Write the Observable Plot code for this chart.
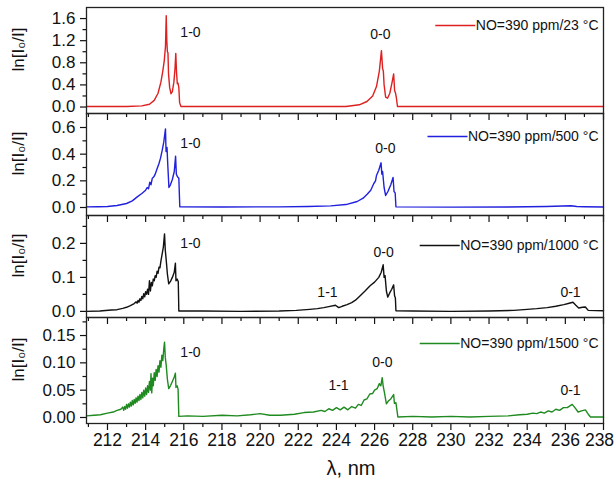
<!DOCTYPE html>
<html><head><meta charset="utf-8">
<script src="https://cdn.jsdelivr.net/npm/d3@7"></script>
<script src="https://cdn.jsdelivr.net/npm/@observablehq/plot@0.6"></script>
<style>
body{margin:0;background:#fff;}
#chart{position:relative;width:615px;height:485px;}
#chart svg{position:absolute;left:0;top:0;overflow:visible;}
</style></head><body><div id="chart"></div>
<script>
// ---------- DATA ----------
const xMajorTicks = [212,214,216,218,220,222,224,226,228,230,232,234,236];
const xEdgeTick = [238];
const xMinorTicks = [211,213,215,217,219,221,223,225,227,229,231,233,235,237];

const seriesLabels = ["NO=390 ppm/23 °C","NO=390 ppm/500 °C","NO=390 ppm/1000 °C","NO=390 ppm/1500 °C"];
const seriesColors = ["#dd2020","#2020dd","#111111","#1f8a1f"];

// 23 °C
const wl1 = [210.9,213.0,213.8,214.2,214.45,214.65,214.8,214.9,214.98,215.04,215.08,215.11,215.14,215.17,215.2,215.26,215.33,215.4,215.48,215.54,215.58,215.62,215.66,215.7,215.74,215.78,215.85,224.5,225.2,225.6,225.9,226.1,226.25,226.36,226.42,226.46,226.5,226.58,226.68,226.8,226.92,227.0,227.05,227.1,227.15,227.2,238];
const ab1 = [0.01,0.01,0.02,0.05,0.12,0.25,0.45,0.65,0.85,1.1,1.65,1.2,1.0,0.98,0.6,0.35,0.24,0.28,0.45,0.7,0.97,0.62,0.42,0.43,0.35,0.08,0.01,0.01,0.04,0.1,0.2,0.37,0.65,1.02,0.7,0.65,0.4,0.18,0.16,0.25,0.45,0.6,0.3,0.25,0.15,0.01,0.01];

// 500 °C
const wl2 = [210.9,211.5,212.0,212.5,213.0,213.3,213.56,213.8,214.0,214.08,214.15,214.22,214.28,214.35,214.43,214.5,214.6,214.7,214.78,214.87,214.95,215.04,215.07,215.12,215.16,215.22,215.3,215.4,215.5,215.57,215.61,215.67,215.74,215.79,218,221,222.5,223.7,224.5,225.09,225.4,225.61,225.8,225.96,226.05,226.1,226.22,226.34,226.38,226.42,226.5,226.58,226.7,226.85,226.97,227.02,227.08,227.12,230,233,235,236.3,236.6,237,238];
const ab2 = [0.005,0.006,0.008,0.015,0.03,0.05,0.08,0.105,0.13,0.15,0.14,0.19,0.17,0.22,0.23,0.25,0.29,0.33,0.37,0.43,0.49,0.59,0.42,0.45,0.32,0.15,0.17,0.21,0.27,0.385,0.25,0.23,0.22,0.005,0.004,0.005,0.008,0.012,0.022,0.045,0.07,0.1,0.13,0.18,0.2,0.24,0.28,0.335,0.25,0.27,0.15,0.09,0.12,0.17,0.225,0.12,0.11,0.005,0.003,0.004,0.008,0.013,0.008,0.006,0.004];

// 1000 °C
const wl3 = [210.9,211.6,212.2,212.5,212.8,213.0,213.2,213.4,213.5,213.55,213.6,213.65,213.7,213.75,213.8,213.85,213.9,213.95,214.0,214.05,214.1,214.15,214.2,214.25,214.3,214.35,214.4,214.45,214.5,214.55,214.6,214.65,214.7,214.75,214.8,214.87,214.93,214.99,215.03,215.08,215.14,215.21,215.3,215.4,215.5,215.56,215.59,215.65,215.71,215.74,217,219,221,221.9,222.6,223.0,223.34,223.6,223.95,224.12,224.3,224.56,224.8,225.0,225.26,225.5,225.78,226.0,226.22,226.35,226.45,226.5,226.55,226.62,226.69,226.8,226.9,227.0,227.05,227.09,227.12,228,230,232,233.3,234,234.5,235.05,235.5,235.92,236.2,236.4,236.55,236.7,236.9,237.05,237.2,238];
const ab3 = [0,0.001,0.004,0.005,0.009,0.012,0.017,0.023,0.028,0.024,0.032,0.027,0.037,0.032,0.044,0.037,0.052,0.043,0.058,0.05,0.065,0.05,0.09,0.06,0.085,0.075,0.095,0.09,0.105,0.1,0.118,0.112,0.13,0.128,0.148,0.17,0.19,0.228,0.18,0.15,0.11,0.081,0.088,0.1,0.115,0.142,0.09,0.095,0.088,0.001,0.001,0,0.001,0.003,0.006,0.008,0.011,0.014,0.018,0.011,0.015,0.02,0.026,0.033,0.047,0.06,0.076,0.086,0.1,0.115,0.137,0.1,0.105,0.06,0.042,0.055,0.065,0.078,0.045,0.04,0.002,0.001,0,0.001,0.003,0.006,0.008,0.011,0.015,0.02,0.024,0.027,0.018,0.01,0.012,0.013,0.003,0.002];

// 1500 °C
const wl4 = [210.9,211.3,211.63,212.0,212.3,212.5,212.7,212.8,212.85,212.9,212.95,213.0,213.05,213.1,213.15,213.2,213.25,213.3,213.35,213.4,213.45,213.5,213.55,213.6,213.65,213.7,213.75,213.8,213.85,213.9,213.95,214.0,214.05,214.1,214.15,214.2,214.25,214.28,214.32,214.36,214.4,214.45,214.5,214.55,214.6,214.65,214.7,214.75,214.8,214.85,214.9,214.95,214.99,215.03,215.08,215.14,215.21,215.3,215.4,215.5,215.56,215.59,215.65,215.7,215.74,216.2,217,218,218.8,219.5,220,220.5,221.07,221.8,222.3,222.8,223.2,223.4,223.6,223.8,224.0,224.2,224.4,224.6,224.8,225.0,225.15,225.3,225.45,225.6,225.75,225.9,226.0,226.14,226.25,226.33,226.4,226.45,226.52,226.62,226.72,226.85,227.0,227.04,227.12,227.22,228,229,230,231,232,233,233.6,234.0,234.3,234.5,234.7,234.9,235.1,235.3,235.5,235.7,235.9,236.1,236.36,236.5,236.67,236.85,237.05,237.2,237.32,238];
const ab4 = [0.003,0.004,0.005,0.008,0.01,0.013,0.015,0.019,0.013,0.02,0.015,0.024,0.017,0.025,0.019,0.028,0.021,0.031,0.023,0.033,0.026,0.036,0.028,0.039,0.031,0.042,0.033,0.046,0.036,0.05,0.039,0.054,0.042,0.058,0.046,0.066,0.05,0.08,0.045,0.072,0.058,0.082,0.068,0.088,0.075,0.095,0.083,0.104,0.092,0.114,0.104,0.125,0.138,0.11,0.095,0.07,0.053,0.058,0.066,0.074,0.081,0.055,0.058,0.052,0.002,0.003,0.002,0.004,0.003,0.005,0.007,0.004,0.004,0.006,0.009,0.01,0.013,0.011,0.016,0.013,0.018,0.014,0.019,0.014,0.02,0.017,0.024,0.022,0.032,0.034,0.043,0.044,0.05,0.053,0.062,0.058,0.073,0.058,0.045,0.025,0.03,0.034,0.042,0.026,0.027,0.001,0.002,0.001,0.002,0.001,0.002,0.003,0.005,0.006,0.008,0.007,0.01,0.008,0.012,0.01,0.015,0.013,0.018,0.018,0.024,0.018,0.01,0.012,0.014,0.006,0.001,0.001];

// band annotations: label, wavelength, value, panel
const bandLabels = ["1-0","0-0","1-0","0-0","1-0","0-0","1-1","0-1","1-0","0-0","1-1","0-1"];
const bandX      = [216.35,226.3,216.35,226.57,216.35,226.47,223.53,236.27,216.35,226.41,224.11,236.27];
const bandY      = [1.34,1.31,0.48,0.44,0.20,0.174,0.056,0.056,0.119,0.10,0.059,0.049];
const bandPanel  = [0,0,1,1,2,2,2,2,3,3,3,3];

// y ticks per panel
const yMajor = [[0,0.4,0.8,1.2,1.6],[0,0.2,0.4,0.6],[0,0.1,0.2],[0,0.05,0.10,0.15]];
const yMinor = [[0.2,0.6,1.0,1.4],[0.1,0.3,0.5],[0.05,0.15,0.25],[0.025,0.075,0.125,0.175]];
const yFormat = [".1f",".1f",".1f",".2f"];

// ---------- LAYOUT ----------
const W = 615, H = 485, ML = 86, MR = 12;
const xDomain = [210.9, 238];
const panelTop    = [7, 113, 215, 317];
const panelBottom = [113, 215, 317, 423];
const yDomains = [[-0.117,1.8],[-0.06,0.705],[-0.018,0.282],[-0.011,0.183]];
const legendPx = [25, 136, 245, 343];
const font = "'Liberation Sans', Arial, Helvetica, sans-serif";

const wls = [wl1,wl2,wl3,wl4], abs = [ab1,ab2,ab3,ab4];

const ctx = document.createElement("canvas").getContext("2d");
ctx.font = "14px 'Liberation Sans', Arial";

const chart = document.getElementById("chart");
for (let i = 0; i < 4; i++) {
  const data = wls[i].map((w, k) => ({wl: w, v: abs[i][k]}));
  const notes = bandLabels.map((t, k) => ({t, x: bandX[k], y: bandY[k], p: bandPanel[k]})).filter(d => d.p === i);
  const top = panelTop[i], bottom = panelBottom[i];
  const xs = d3.scaleLinear(xDomain, [ML, W - MR]);
  const ys = d3.scaleLinear(yDomains[i], [bottom, top]);
  const tw = ctx.measureText(seriesLabels[i]).width;
  const textEndPx = W - MR - 5;
  const textStartPx = textEndPx - tw;
  const legY = ys.invert(legendPx[i]);
  const last = i === 3;
  const plot = Plot.plot({
    width: W, height: H,
    marginTop: top, marginBottom: H - bottom, marginLeft: ML, marginRight: MR,
    style: {background: "transparent", overflow: "visible", fontFamily: font, fontSize: "17px", color: "#111"},
    x: {domain: xDomain},
    y: {domain: yDomains[i]},
    marks: [
      Plot.axisY({ticks: yMinor[i], tickSize: 3.5, tickFormat: () => "", label: null, strokeWidth: 1.2}),
      Plot.axisY({ticks: yMajor[i], tickSize: 6, tickPadding: 5, tickFormat: d3.format(yFormat[i]), label: null, strokeWidth: 1.2}),
      Plot.axisX({ticks: xMinorTicks, tickSize: 4, tickFormat: () => "", label: null, strokeWidth: 1.2}),
      Plot.axisX({ticks: xMajorTicks, tickSize: 7, tickPadding: 3, tickFormat: last ? (d => String(d)) : (() => ""), label: null, strokeWidth: 1.2, fontSize: 17.5}),
      Plot.axisX({ticks: xEdgeTick, tickSize: 7, tickFormat: () => "", label: null, strokeWidth: 1.2}),
      ...(last ? [Plot.axisX({ticks: xEdgeTick, tickSize: 0, tickPadding: 10, dx: -4, tickFormat: d => String(d), label: null, fontSize: 17.5})] : []),
      Plot.line(data, {x: "wl", y: "v", stroke: seriesColors[i], strokeWidth: 1.4}),
      Plot.frame({stroke: "#222", strokeWidth: 1.3}),
      Plot.text(notes, {x: "x", y: "y", text: "t", fontSize: 14, fill: "#111"}),
      Plot.text([seriesLabels[i]], {x: xs.invert(textEndPx), y: legY, text: d => d, textAnchor: "end", fontSize: 14, fill: "#111"}),
      Plot.ruleY([legY], {x1: xs.invert(textStartPx - 40), x2: xs.invert(textStartPx), stroke: seriesColors[i], strokeWidth: 1.6}),
      Plot.text(["ln[I₀/I]"], {frameAnchor: "left", dx: -68, dy: 11, rotate: -90, fontSize: 17, fill: "#111", text: d => d}),
      ...(last ? [Plot.text(["λ, nm"], {frameAnchor: "bottom", dx: 6, dy: 51, fontSize: 20, fill: "#111", text: d => d})] : [])
    ]
  });
  chart.appendChild(plot);
}
</script></body></html>
